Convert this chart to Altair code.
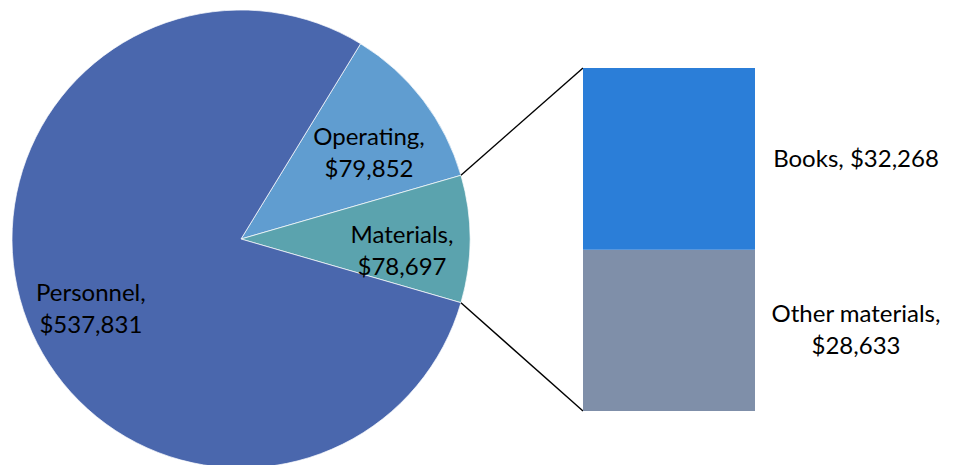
import math
import altair as alt
import pandas as pd

# ---- data ----
pie_categories = ["Operating", "Materials", "Personnel"]
pie_amounts = [79852, 78697, 537831]          # amounts shown in the labels
bar_categories = ["Other materials", "Books"]
bar_amounts = [28633, 32268]
bar_label_breaks = [",\n", ", "]

pie_colors = ["#609dd0", "#5ba3ae", "#4a67ad"]
bar_colors = ["#7f8fa9", "#2b7ed8"]

# the "Materials" slice of a pie-of-bar is drawn as the sum of its bar parts
materials_slice = sum(bar_amounts)
pie_slice_values = [pie_amounts[0], materials_slice, pie_amounts[2]]
total = sum(pie_slice_values)

# ---- layout ----
W, H = 939, 457
CX, CY, R = 233, 231, 229
BAR_L, BAR_R, BAR_T, BAR_B = 575, 747, 60, 403
FONT = "Lato"
FS = 24
LH = 32

# rotate pie so that the split-off slice is centred at 3 o'clock
start = math.pi / 2 - (pie_slice_values[0] + pie_slice_values[1] / 2) / total * 2 * math.pi

pie_df = pd.DataFrame({
    "cat": pie_categories,
    "value": pie_slice_values,
    "order": [0, 1, 2],
    "label": [f"{c},\n${v:,}" for c, v in zip(pie_categories, pie_amounts)],
})

bar_df = pd.DataFrame({
    "cat": bar_categories,
    "value": bar_amounts,
    "order": [0, 1],
    "label": [f"{c}{b}${v:,}" for c, b, v in zip(bar_categories, bar_label_breaks, bar_amounts)],
})

color_scale = alt.Scale(domain=pie_categories + bar_categories, range=pie_colors + bar_colors)
theta_scale = alt.Scale(range=[start, start + 2 * math.pi])
y_scale = alt.Scale(domain=[0, materials_slice], range=[BAR_B, BAR_T], nice=False, zero=False)

arc = alt.Chart(pie_df).mark_arc(outerRadius=R, stroke="#ffffff", strokeWidth=0.7).encode(
    theta=alt.Theta("value:Q", stack=True, scale=theta_scale),
    color=alt.Color("cat:N", scale=color_scale, legend=None),
    order=alt.Order("order:Q"),
    x=alt.value(CX),
    y=alt.value(CY),
)

pie_text = alt.Chart(pie_df).mark_text(
    radius=161, fontSize=FS, font=FONT, lineBreak="\n", align="center",
    baseline="middle", dy=-3, color="#000000", lineHeight=LH,
).encode(
    theta=alt.Theta("value:Q", stack=True, scale=theta_scale),
    order=alt.Order("order:Q"),
    text="label:N",
    x=alt.value(CX),
    y=alt.value(CY),
)

bar_base = alt.Chart(bar_df).transform_stack(
    stack="value", as_=["v0", "v1"], groupby=[], sort=[alt.SortField("order", order="ascending")]
).transform_calculate(mid="(datum.v0 + datum.v1) / 2")

bars = bar_base.mark_rect().encode(
    x=alt.value(BAR_L),
    x2=alt.value(BAR_R),
    y=alt.Y("v0:Q", scale=y_scale, axis=None),
    y2="v1:Q",
    color=alt.Color("cat:N", scale=color_scale, legend=None),
)

text_style = dict(fontSize=FS, font=FONT, lineBreak="\n", align="center",
                  baseline="middle", color="#000000", lineHeight=LH)
text_enc = dict(
    x=alt.value(848),
    y=alt.Y("mid:Q", scale=y_scale, axis=None),
    text="label:N",
)
bar_text_one = bar_base.transform_filter("indexof(datum.label, '\\n') < 0").mark_text(
    dy=1, **text_style).encode(**text_enc)
bar_text_two = bar_base.transform_filter("indexof(datum.label, '\\n') >= 0").mark_text(
    dy=-15, **text_style).encode(**text_enc)

# connector lines from the split slice edges to the bar corners
a1 = start + pie_slice_values[0] / total * 2 * math.pi
a2 = a1 + pie_slice_values[1] / total * 2 * math.pi
conn_df = pd.DataFrame({
    "x": [CX + R * math.sin(a1), CX + R * math.sin(a2)],
    "y": [CY - R * math.cos(a1), CY - R * math.cos(a2)],
    "x2": [BAR_L, BAR_L],
    "y2": [BAR_T, BAR_B],
})
rules = alt.Chart(conn_df).mark_rule(color="#000000", strokeWidth=1.4).encode(
    x=alt.X("x:Q", scale=None, axis=None),
    y=alt.Y("y:Q", scale=None, axis=None),
    x2="x2:Q",
    y2="y2:Q",
)

chart = alt.layer(arc, pie_text, rules, bars, bar_text_one, bar_text_two).resolve_scale(
    x="independent", y="independent"
).properties(
    width=W, height=H, padding=0, autosize=alt.AutoSizeParams(type="none"), background="#ffffff"
).configure_view(stroke=None)

chart.save("out.html", embed_options={"renderer": "svg", "actions": False})
